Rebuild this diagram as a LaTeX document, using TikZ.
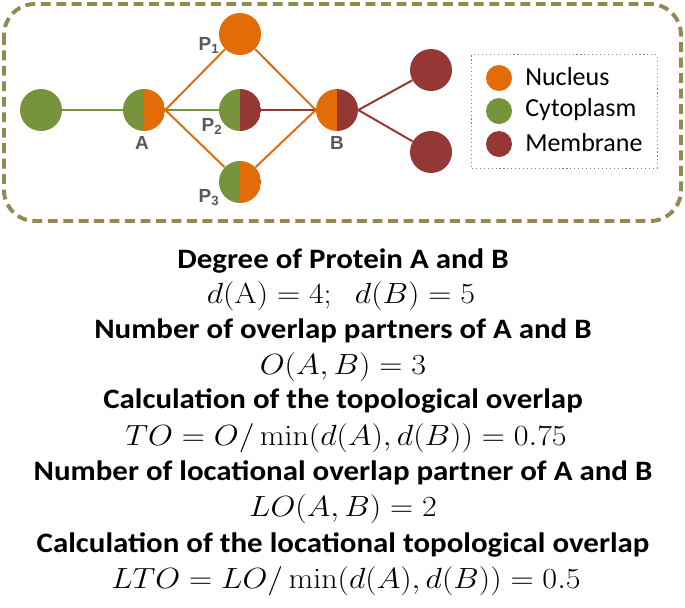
\documentclass[tikz,border=0pt]{standalone}
\usepackage[no-math]{fontspec}
\usepackage{graphicx}
\setmainfont{Carlito}
\newfontfamily\headfont[FakeStretch=1.1]{Carlito}
\newfontfamily\lblfont{Liberation Sans}
\usetikzlibrary{positioning}
\definecolor{nucl}{HTML}{E36C09}
\definecolor{cyto}{HTML}{77933C}
\definecolor{memb}{HTML}{953735}
\definecolor{olive}{HTML}{938953}
\definecolor{lblgray}{HTML}{595959}
\newcommand{\wideeq}[1]{\scalebox{1.1}[1]{$#1$}}

\begin{document}
\begin{tikzpicture}[
    x=0.025cm,y=-0.025cm,
    prot/.style={circle,inner sep=0pt,minimum size=1.05cm,fill=#1},
    halfprot/.style 2 args={circle,inner sep=0pt,minimum size=1.05cm,
      path picture={
        \fill[#1] (path picture bounding box.south west) rectangle (path picture bounding box.north);
        \fill[#2] (path picture bounding box.south) rectangle (path picture bounding box.north east);}},
    dot/.style={circle,inner sep=0pt,minimum size=0.65cm,fill=#1},
    lbl/.style={font=\lblfont\fontsize{13.5pt}{15pt}\selectfont\bfseries,text=lblgray,inner sep=0pt},
    legtext/.style={font=\fontsize{18.5pt}{21pt}\selectfont,anchor=west,inner sep=0pt},
    edge/.style={line width=1.4pt,draw=#1},
    head/.style={font=\headfont\fontsize{20pt}{22pt}\selectfont\bfseries,inner sep=0pt},
    eq/.style={font=\fontsize{19.5pt}{22pt}\selectfont,inner sep=0pt}
  ]
  \useasboundingbox (0,0) rectangle (685,607);
  % frame
  \draw[olive,line width=2.8pt,dash pattern=on 7pt off 4pt,rounded corners=22pt]
    (4,4) rectangle (681,221);
  % proteins
  \node[prot=cyto] (L) at (41,110) {};
  \node[halfprot={cyto}{nucl}] (A) at (144,110) {};
  \node[prot=nucl] (P1) at (240,34) {};
  \node[halfprot={cyto}{memb}] (P2) at (240,110) {};
  \node[halfprot={cyto}{nucl}] (P3) at (240,182) {};
  \node[halfprot={nucl}{memb}] (B) at (337,110) {};
  \node[prot=memb] (R1) at (431,70) {};
  \node[prot=memb] (R2) at (431,152) {};
  % interactions
  \draw[edge=cyto] (L) -- (A);
  \draw[edge=nucl] (A.east) -- (P1);
  \draw[edge=cyto] (A.east) -- (P2);
  \draw[edge=nucl] (A.east) -- (P3);
  \draw[edge=nucl] (P1) -- (B.west);
  \draw[edge=memb] (P2) -- (B.west);
  \draw[edge=nucl] (P3) -- (B.west);
  \draw[edge=memb] (B.east) -- (R1);
  \draw[edge=memb] (B.east) -- (R2);
  % labels
  \node[lbl] (lA) at (142,143) {A};
  \node[lbl] (lB) at (337,143) {B};
  \node[lbl] (lP1) at (209,45) {P\textsubscript{1}};
  \node[lbl] (lP2) at (212,126) {P\textsubscript{2}};
  \node[lbl] (lP3) at (209,198) {P\textsubscript{3}};
  % legend
  \node[draw=gray,dotted,thick,minimum width=4.63cm,minimum height=2.83cm] (legend) at (564.5,111.5) {};
  \node[dot=nucl] (kN) at (499,78) {};
  \node[dot=cyto] (kC) at (499,111) {};
  \node[dot=memb] (kM) at (499,144) {};
  \node[legtext] (tN) at (525,77) {Nucleus};
  \node[legtext] (tC) at (525,110) {Cytoplasm};
  \node[legtext] (tM) at (525,143) {Membrane};
  % text
  \node[head] (h1) at (343,261) {Degree of Protein A and B};
  \node[eq] (e1) at (341,296) {\wideeq{d(\mathrm{A})=4;\;\; d(B)=5}};
  \node[head] (h2) at (343,331) {Number of overlap partners of A and B};
  \node[eq] (e2) at (343,367) {\wideeq{O(A,B)=3}};
  \node[head] (h3) at (343,401) {Calculation of the topological overlap};
  \node[eq] (e3) at (346,438) {\wideeq{TO=O/\min(d(A),d(B))=0.75}};
  \node[head] (h4) at (343,473) {Number of locational overlap partner of A and B};
  \node[eq] (e4) at (343,509) {\wideeq{LO(A,B)=2}};
  \node[head] (h5) at (343,545) {Calculation of the locational topological overlap};
  \node[eq] (e5) at (346,581) {\wideeq{LTO=LO/\min(d(A),d(B))=0.5}};
\end{tikzpicture}
\end{document}
